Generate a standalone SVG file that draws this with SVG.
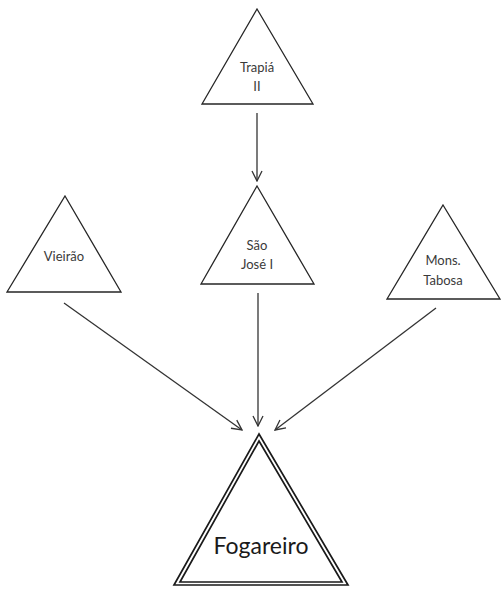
<svg xmlns="http://www.w3.org/2000/svg" width="501" height="596" viewBox="0 0 501 596">
  <defs>
    <style>
      .tri { fill: #ffffff; stroke: #262626; stroke-width: 1.3; stroke-linejoin: miter; }
      .dbl { fill: none; stroke: #1a1a1a; stroke-width: 1.7; stroke-linejoin: miter; }
      .lbl { font-family: Lato, "Open Sans", "Liberation Sans", sans-serif; font-size: 13px; fill: #3a3a3a; text-anchor: middle; }
      .big { font-family: Lato, "Open Sans", "Liberation Sans", sans-serif; font-size: 23px; fill: #1a1a1a; text-anchor: middle; }
      .edge { stroke: #333333; stroke-width: 1.3; fill: none; marker-end: url(#arrow); }
    </style>
    <marker id="arrow" viewBox="0 0 12 12" refX="11" refY="6" markerWidth="12" markerHeight="12" markerUnits="userSpaceOnUse" orient="auto">
      <path d="M1,1 L11,6 L1,11" fill="none" stroke="#333333" stroke-width="1.3"/>
    </marker>
  </defs>
  <rect width="501" height="596" fill="#ffffff"/>

  <g id="connectors">
    <line class="edge" x1="257" y1="113" x2="257" y2="181"/>
    <line class="edge" x1="258" y1="293" x2="258" y2="426"/>
    <line class="edge" x1="64" y1="303" x2="242" y2="430"/>
    <line class="edge" x1="436" y1="308" x2="275" y2="430"/>
  </g>

  <g id="trapia">
    <polygon class="tri" points="257,9 313,104 202,104"/>
    <text class="lbl" x="257" y="72">Trapiá</text>
    <text class="lbl" x="257" y="91">II</text>
  </g>

  <g id="sao-jose">
    <polygon class="tri" points="257,186 314,284 201,284"/>
    <text class="lbl" x="257" y="250">São</text>
    <text class="lbl" x="257" y="269">José I</text>
  </g>

  <g id="vieirao">
    <polygon class="tri" points="65,196 121,292 7,292"/>
    <text class="lbl" x="64" y="261">Vieirão</text>
  </g>

  <g id="mons-tabosa">
    <polygon class="tri" points="443,205 500,299 387,299"/>
    <text class="lbl" x="443" y="265">Mons.</text>
    <text class="lbl" x="443" y="285">Tabosa</text>
  </g>

  <g id="fogareiro">
    <polygon fill="#ffffff" points="259,434 348,585 174,585"/>
    <polygon class="dbl" points="259,434 348,585 174,585"/>
    <polygon class="dbl" points="259,441 342,582 180,582"/>
    <text class="big" x="261" y="554">Fogareiro</text>
  </g>
</svg>
